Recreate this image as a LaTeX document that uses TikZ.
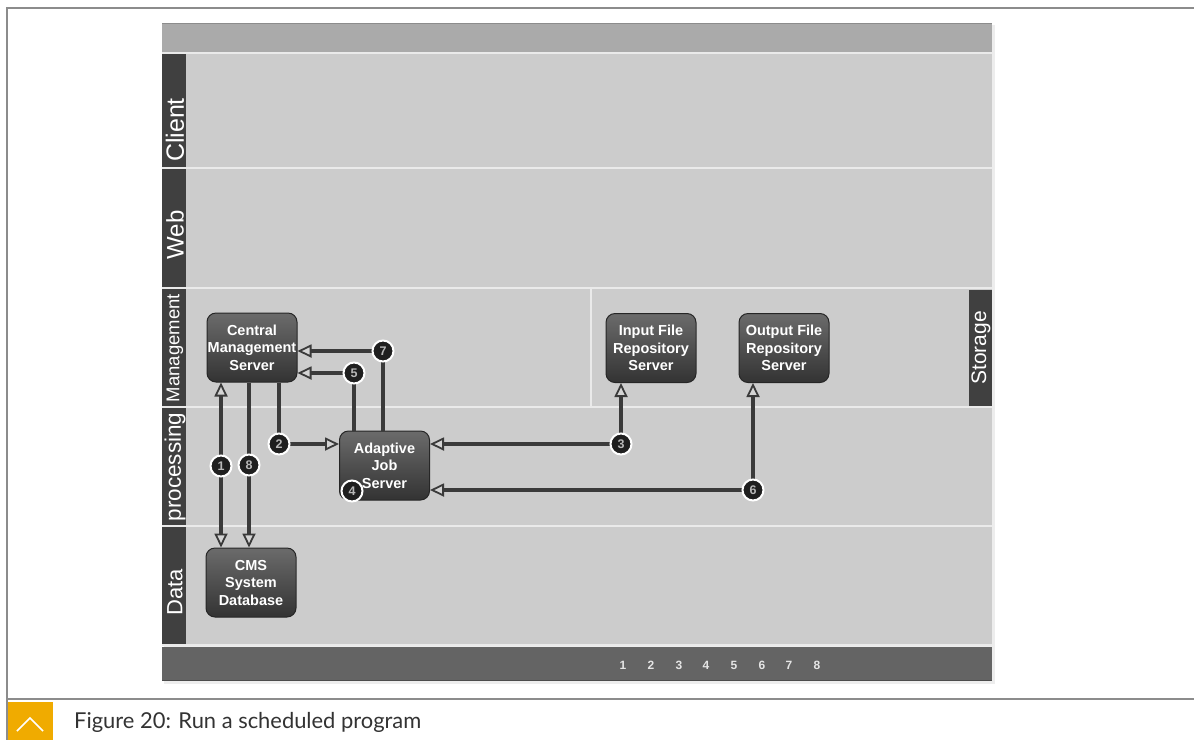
\documentclass[tikz,border=0pt]{standalone}
\usepackage{fontspec}
\setmainfont{Liberation Sans}
\newfontfamily\capfont{Lato}
\usetikzlibrary{arrows.meta}

\definecolor{lane}{HTML}{CCCCCC}
\definecolor{laneline}{HTML}{EAEAEA}
\definecolor{header}{HTML}{AAAAAA}
\definecolor{footer}{HTML}{646464}
\definecolor{tab}{HTML}{404040}
\definecolor{wirec}{HTML}{3A3A3A}
\definecolor{frameline}{HTML}{8C8C8C}
\definecolor{sapgold}{HTML}{F0AB00}

\tikzset{
  server/.style={rounded corners=9pt, minimum width=90pt, minimum height=69pt,
    inner sep=0pt, align=center, text=white,
    font=\bfseries\fontsize{14.5}{17.5}\selectfont,
    top color=black!58, bottom color=black!80, draw=black!85, line width=1pt},
  badge/.style={circle, fill=black!88, draw=white, line width=2pt,
    minimum size=21pt, inner sep=0pt, text=black!28,
    font=\bfseries\fontsize{12.5}{12.5}\selectfont},
  wire/.style={draw=wirec, line width=3.5pt},
  hollow/.tip={Triangle[length=14pt,width=13pt,line width=1.8pt,fill=lane!85!white]},
  lanetext/.style={rotate=90, text=white, inner sep=0pt},
}

\begin{document}
\begin{tikzpicture}[x=1pt,y=-1pt]
\useasboundingbox (0,0) rectangle (1194,740);
\fill[white] (0,0) rectangle (1194,740);

% page frame
\draw[frameline, line width=2pt] (1194,8) -- (7,8) -- (7,740);
\draw[frameline, line width=2pt] (7,699) -- (1194,699);

% soft drop shadow of the panel
\fill[black!7] (164,25) rectangle (995,684);

% header bar and swim lanes
\fill[header] (162,23) rectangle (992,52);
\draw[black!45, line width=1.2pt] (162,23.6) -- (992,23.6);
\fill[lane] (162,52) rectangle (992,646);
\foreach \y in {53,168,288,407,526,645}
  \draw[laneline, line width=1.6pt] (162,\y) -- (992,\y);
\draw[laneline, line width=1.6pt] (591,289) -- (591,406);

% lane tabs
\foreach \a/\b in {54/167,169/287,289/406,408/525,527/644}
  \fill[tab] (162,\a) rectangle (186,\b);
\fill[tab] (969,290) rectangle (992,406);
\node[lanetext, font=\fontsize{25}{25}\selectfont] (lclient) at (175,130) {Client};
\node[lanetext, font=\fontsize{24}{24}\selectfont] (lweb) at (175,235) {Web};
\node[lanetext, font=\fontsize{18.5}{18.5}\selectfont] (lmgmt) at (175,348) {Management};
\node[lanetext, font=\fontsize{22.5}{22.5}\selectfont] (lproc) at (175,467) {processing};
\node[lanetext, font=\fontsize{22}{22}\selectfont] (ldata) at (175,592) {Data};
\node[lanetext, font=\fontsize{21}{21}\selectfont] (lstore) at (981,348) {Storage};

% footer bar with step numbers
\fill[footer] (162,647) rectangle (992,681);
\draw[black!70, line width=1pt] (162,680.5) -- (992,680.5);
\foreach \i/\x in {1/623,2/651,3/679,4/706,5/734,6/762,7/789,8/817}
  \node[text=black!10, font=\bfseries\fontsize{12}{12}\selectfont] (f\i) at (\x,665) {\i};

% servers
\node[server] (cms) at (252,347.5) {Central\\Management\\Server};
\node[server] (ajs) at (384.5,465.5) {Adaptive\\Job\\Server};
\node[server] (ifrs) at (651,348) {Input File\\Repository\\Server};
\node[server] (ofrs) at (784,348) {Output File\\Repository\\Server};
\node[server] (db) at (251,582.5) {CMS\\System\\Database};

% step positions
\coordinate (p1) at (221,466);
\coordinate (p2) at (279,444);
\coordinate (p3) at (621,444);
\coordinate (p4) at (352,491);
\coordinate (p5) at (354,373);
\coordinate (p6) at (753,490);
\coordinate (p7) at (383,351);
\coordinate (p8) at (249,465);

% connectors
\draw[wire, hollow-hollow] (cms.south -| p1) -- (db.north -| p1);
\draw[wire, -hollow] (cms.south -| p8) -- (db.north -| p8);
\draw[wire] (cms.south -| p2) -- (p2);
\draw[wire, -hollow] (p2) -- (p2 -| ajs.west);
\draw[wire, -hollow] (p3) -- (p3 -| ajs.east);
\draw[wire, -hollow] (p3) -- (p3 |- ifrs.south);
\draw[wire, -hollow] (p6) -- (p6 -| ajs.east);
\draw[wire, -hollow] (p6) -- (p6 |- ofrs.south);
\draw[wire] (ajs.north -| p5) -- (p5);
\draw[wire, -hollow] (p5) -- (p5 -| cms.east);
\draw[wire] (ajs.north -| p7) -- (p7);
\draw[wire, -hollow] (p7) -- (p7 -| cms.east);

% step badges
\foreach \i in {1,...,8}
  \node[badge] (s\i) at (p\i) {\i};

% caption
\fill[sapgold] (8,702) rectangle (53,740);
\draw[white, line width=1.5pt] (17,731) -- (30,718) -- (43,731);
\node[anchor=base west, inner sep=0pt, text=black!80,
  font=\capfont\fontsize{21.9}{21.9}\selectfont] (cap) at (74,728)
  {Figure 20: Run a scheduled program};
\end{tikzpicture}
\end{document}
